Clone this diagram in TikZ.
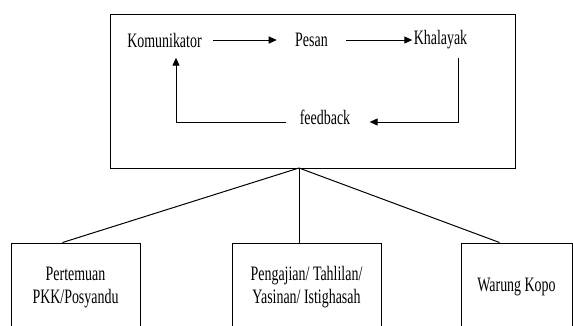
\documentclass[tikz,border=0pt]{standalone}
\usepackage{fontspec}
\setmainfont{Liberation Serif}[FakeStretch=0.68]
\usepackage{tikz}
\usetikzlibrary{arrows.meta}

\tikzset{
  txt/.style={inner sep=0pt, font=\fontsize{20.5}{23}\selectfont, align=center},
  kotak/.style={draw, line width=1pt, inner sep=0pt, font=\fontsize{20.5}{23}\selectfont, align=center},
  panah/.style={line width=1pt, -{Triangle[length=8pt,width=7pt]}}
}

\begin{document}
\begin{tikzpicture}[x=1pt,y=-1pt,line width=1pt]
    \clip (0,0) rectangle (573,325);
    % main box with the communication loop
    \node[kotak, minimum width=405, minimum height=154] (utama) at (312.5,91) {};
    \node[txt] (kom) at (164.5,40) {Komunikator};
    \node[txt] (pesan) at (311.5,40) {Pesan};
    \node[txt] (khal) at (440.5,40) {Khalayak};
    \node[txt] (fb) at (325,117) {feedback};
    \draw[panah, shorten <=11pt, shorten >=18pt] (kom) -- (pesan);
    \draw[panah, shorten <=18pt, shorten >=1pt] (pesan) -- (khal);
    \coordinate (fbR) at (458,122);
    \coordinate (fbL) at (176,122);
    \draw[panah, shorten >=19pt] (khal.south -| fbR) ++(0,8) -- (fbR) -- (fb.east |- fbR);
    \draw[panah, shorten >=10pt] (fb.west |- fbL) ++(-13,0) -- (fbL) -- (kom.south -| fbL);
    % lower boxes
    \coordinate (apex) at (299,168);
    \node[kotak, minimum width=129, minimum height=88] (pkk) at (75.5,287) {Pertemuan\\PKK/Posyandu};
    \node[kotak, minimum width=149, minimum height=88] (ngaji) at (306.5,287) {Pengajian/ Tahlilan/\\Yasinan/ Istighasah};
    \node[kotak, minimum width=111, minimum height=88] (warung) at (516.5,287) {Warung Kopo};
    \path (pkk.north west) ++(52,0) coordinate (pkkTop);
    \path (warung.north west) ++(39,0) coordinate (warungTop);
    \draw (apex) -- (pkkTop);
    \draw (apex) -- (apex |- ngaji.north);
    \draw (apex) -- (warungTop);
\end{tikzpicture}
\end{document}
